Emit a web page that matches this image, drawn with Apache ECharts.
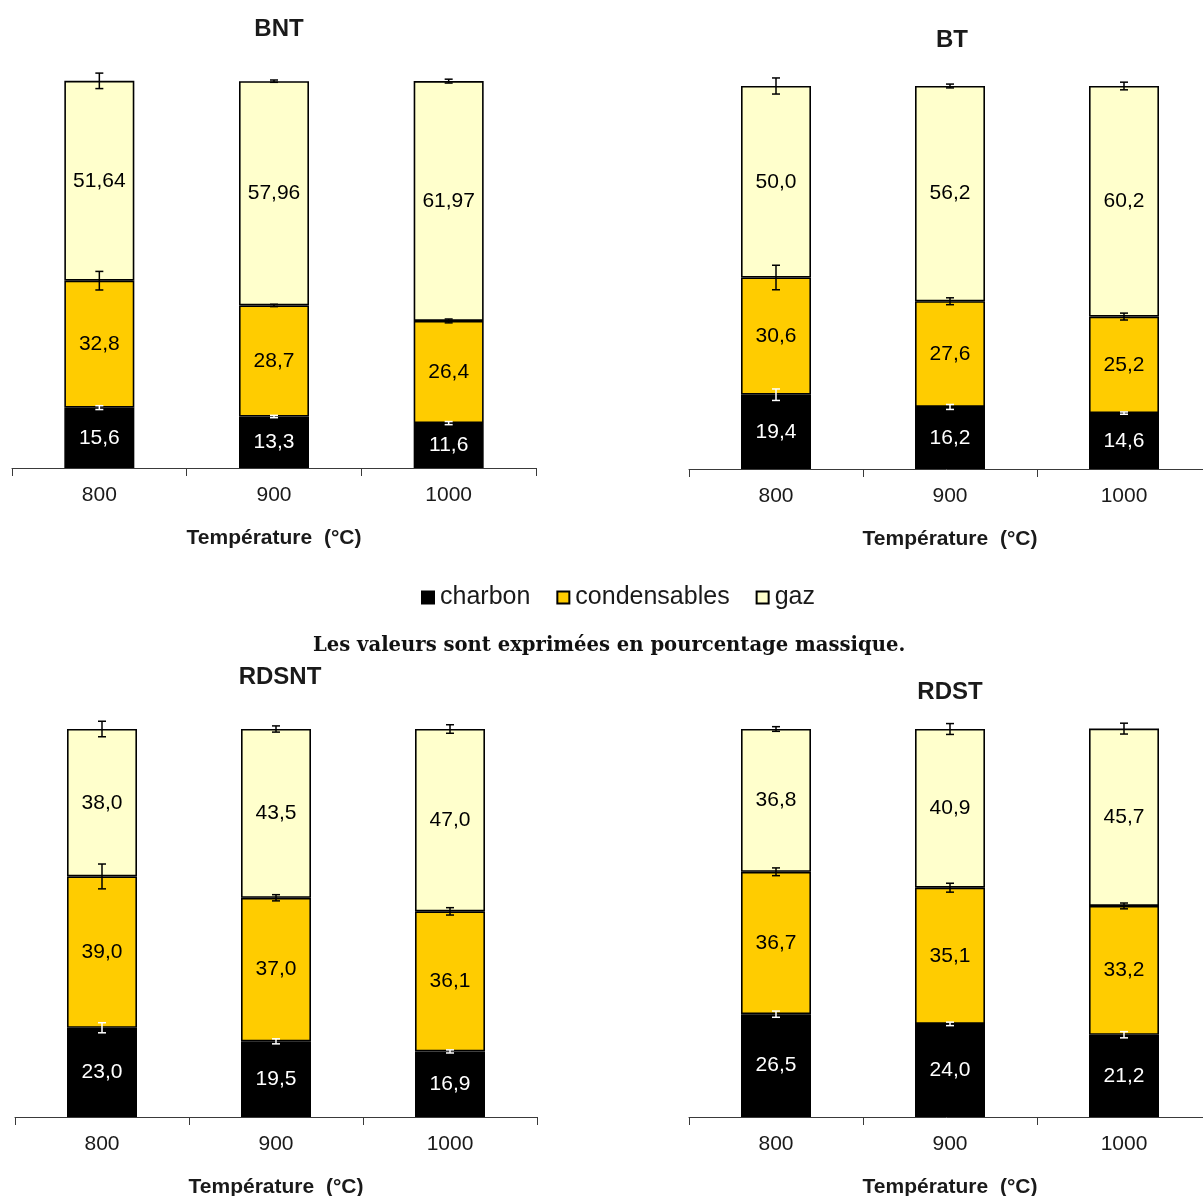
<!DOCTYPE html>
<html><head><meta charset="utf-8">
<script src="https://cdn.jsdelivr.net/npm/echarts@6/dist/echarts.min.js"></script>
<style>html,body{margin:0;padding:0;background:#fff}#c{width:1203px;height:1196px}</style>
</head><body><div id="c"></div>
<script>
const categories = ['800', '900', '1000'];
const seriesNames = ['charbon', 'condensables', 'gaz'];
const panelTitles = ['BNT', 'BT', 'RDSNT', 'RDST'];
const xAxisTitle = 'Température  (°C)';
const noteText = 'Les valeurs sont exprimées en pourcentage massique.';

// BNT
const bntCharbon = [15.6, 13.3, 11.6];
const bntCondensables = [32.8, 28.7, 26.4];
const bntGaz = [51.64, 57.96, 61.97];
const bntCharbonErr = [0.5, 0.3, 0.4];
const bntCondensablesErr = [2.4, 0.3, 0.5];
const bntGazErr = [2.0, 0.3, 0.5];
const bntDecimals = [1, 1, 2];

// BT
const btCharbon = [19.4, 16.2, 14.6];
const btCondensables = [30.6, 27.6, 25.2];
const btGaz = [50.0, 56.2, 60.2];
const btCharbonErr = [1.5, 0.65, 0.3];
const btCondensablesErr = [3.2, 0.9, 0.9];
const btGazErr = [2.1, 0.5, 1.0];
const btDecimals = [1, 1, 1];

// RDSNT
const rdsntCharbon = [23.0, 19.5, 16.9];
const rdsntCondensables = [39.0, 37.0, 36.1];
const rdsntGaz = [38.0, 43.5, 47.0];
const rdsntCharbonErr = [1.3, 0.65, 0.4];
const rdsntCondensablesErr = [3.2, 0.8, 0.95];
const rdsntGazErr = [2.0, 0.8, 1.1];
const rdsntDecimals = [1, 1, 1];

// RDST
const rdstCharbon = [26.5, 24.0, 21.2];
const rdstCondensables = [36.7, 35.1, 33.2];
const rdstGaz = [36.8, 40.9, 45.7];
const rdstCharbonErr = [0.8, 0.45, 0.8];
const rdstCondensablesErr = [1.0, 1.15, 0.75];
const rdstGazErr = [0.6, 1.4, 1.4];
const rdstDecimals = [1, 1, 1];

const panels = [
  { vals: [bntCharbon, bntCondensables, bntGaz], errs: [bntCharbonErr, bntCondensablesErr, bntGazErr], dec: bntDecimals },
  { vals: [btCharbon, btCondensables, btGaz], errs: [btCharbonErr, btCondensablesErr, btGazErr], dec: btDecimals },
  { vals: [rdsntCharbon, rdsntCondensables, rdsntGaz], errs: [rdsntCharbonErr, rdsntCondensablesErr, rdsntGazErr], dec: rdsntDecimals },
  { vals: [rdstCharbon, rdstCondensables, rdstGaz], errs: [rdstCharbonErr, rdstCondensablesErr, rdstGazErr], dec: rdstDecimals }
];

const FONT = 'Liberation Sans, Arial, sans-serif';
const fillColors = ['#000000', '#FFCC00', '#FFFFCC'];
const labelColors = ['#ffffff', '#000000', '#000000'];
const errColors = ['#ffffff', '#000000', '#000000'];

const gridBoxes = [
  { left: 12, top: 81, width: 524, height: 387 },
  { left: 689, top: 86, width: 522, height: 383 },
  { left: 15, top: 729, width: 522, height: 388 },
  { left: 689, top: 729, width: 522, height: 388 }
];
const titlePos = [[279, 28], [952, 39], [280, 676], [950, 691]];

const grids = [], xAxes = [], yAxes = [], series = [], titles = [];
panels.forEach((p, pi) => {
  grids.push(Object.assign({ containLabel: false, outerBoundsMode: 'none' }, gridBoxes[pi]));
  xAxes.push({
    type: 'category', gridIndex: pi, data: categories, boundaryGap: true,
    axisLine: { show: true, lineStyle: { color: '#3a3a3a', width: 1 } },
    axisTick: { show: true, length: 8, lineStyle: { color: '#3a3a3a', width: 1 } },
    axisLabel: { fontFamily: FONT, fontSize: 21, color: '#1a1a1a', margin: 17 },
    name: xAxisTitle, nameLocation: 'middle', nameGap: 60,
    nameTextStyle: { fontFamily: FONT, fontSize: 21, fontWeight: 'bold', color: '#1a1a1a' },
    splitLine: { show: false }
  });
  yAxes.push({ type: 'value', gridIndex: pi, min: 0, max: 100, show: false, splitLine: { show: false } });
  titles.push({
    text: panelTitles[pi], left: titlePos[pi][0], top: titlePos[pi][1] - 11, textAlign: 'center', padding: 0,
    textStyle: { fontFamily: FONT, fontSize: 24, fontWeight: 'bold', color: '#1a1a1a' }
  });
  const cum = [0, 0, 0];
  p.vals.forEach((vals, si) => {
    series.push({
      type: 'bar', name: seriesNames[si], xAxisIndex: pi, yAxisIndex: pi, stack: 'tot' + pi,
      barWidth: 70, clip: false, data: vals,
      itemStyle: { color: fillColors[si], borderColor: '#000', borderWidth: 1.6 },
      label: {
        show: true, position: 'inside', fontFamily: FONT, fontSize: 21, color: labelColors[si],
        formatter: (d) => d.value.toFixed(p.dec[si]).replace('.', ',')
      },
      emphasis: { disabled: true }
    });
  });
  p.vals.forEach((vals, si) => {
    const errData = vals.map((v, ci) => { cum[ci] += v; return [ci, cum[ci], p.errs[si][ci]]; });
    const col = errColors[si];
    series.push({
      type: 'custom', name: 'err_' + seriesNames[si], xAxisIndex: pi, yAxisIndex: pi, z: 10, clip: false,
      silent: true, encode: { x: 0, y: 1 }, data: errData,
      renderItem: (params, api) => {
        const x = api.value(0), top = api.value(1), e = api.value(2);
        const a = api.coord([x, top + e]), b = api.coord([x, top - e]);
        const hw = 4;
        const st = { stroke: col, lineWidth: 1.5 };
        return {
          type: 'group', children: [
            { type: 'line', shape: { x1: a[0], y1: a[1], x2: b[0], y2: b[1] }, style: st },
            { type: 'line', shape: { x1: a[0] - hw, y1: a[1], x2: a[0] + hw, y2: a[1] }, style: st },
            { type: 'line', shape: { x1: b[0] - hw, y1: b[1], x2: b[0] + hw, y2: b[1] }, style: st }
          ]
        };
      }
    });
  });
});

const chart = echarts.init(document.getElementById('c'), null, { renderer: 'canvas' });
chart.setOption({
  backgroundColor: '#ffffff',
  animation: false,
  title: titles,
  grid: grids,
  xAxis: xAxes,
  yAxis: yAxes,
  legend: {
    data: seriesNames, left: 416, top: 580, icon: 'rect', itemWidth: 12, itemHeight: 12, itemGap: 26,
    selectedMode: false,
    textStyle: { fontFamily: FONT, fontSize: 25, color: '#1a1a1a', padding: [0, 0, 0, 1] }
  },
  graphic: [{
    type: 'text', left: 313, top: 636,
    style: { text: noteText, font: 'bold 19.6px "DejaVu Serif", serif', fill: '#111' }
  }],
  series: series
});
</script></body></html>
